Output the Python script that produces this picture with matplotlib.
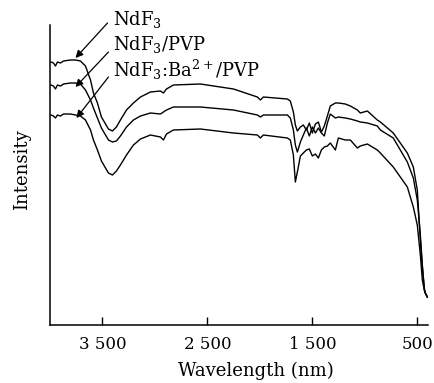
import matplotlib
matplotlib.use("Agg")
import matplotlib.pyplot as plt

plt.rcParams['font.family'] = ['DejaVu Serif']
plt.rcParams['mathtext.fontset'] = 'dejavuserif'

# wavelength (nm)
wavelength = [3990, 3967, 3948, 3929, 3900, 3871, 3805, 3757, 3710, 3662,
              3614, 3586, 3548, 3510, 3471, 3443, 3405, 3367, 3329, 3271,
              3205, 3138, 3043, 2948, 2919, 2890, 2824,
              2567, 2252, 2024, 1995, 1967, 1738, 1710, 1681, 1662, 1643,
              1614, 1586, 1557, 1529, 1500, 1471, 1443, 1414, 1386, 1357,
              1329, 1281, 1252, 1186, 1138, 1071, 1043, 976, 881, 852,
              729, 595, 538, 500, 471, 452, 433, 424, 405]

# intensity, arbitrary units
ndf3 = [263, 262, 259, 263, 262, 264, 265, 265, 264, 259,
        245, 232, 222, 208, 201, 196, 194, 198, 205, 215,
        222, 228, 233, 234, 232, 236, 240,
        241, 236, 228, 225, 228, 226, 224, 213, 200, 194,
        198, 200, 195, 202, 192, 201, 203, 193, 199, 209,
        219, 222, 222, 221, 219, 215, 212, 214, 205, 203,
        192, 172, 158, 135, 85, 58, 37, 32, 28]

ndf3_pvp = [240, 239, 236, 240, 239, 241, 242, 242, 241, 235,
            225, 217, 207, 197, 190, 185, 183, 184, 189, 198,
            205, 209, 212, 211, 213, 215, 218,
            218, 215, 210, 208, 210, 210, 207, 195, 180, 173,
            183, 190, 197, 189, 198, 192, 197, 192, 189, 202,
            211, 207, 208, 207, 206, 204, 203, 202, 199, 195,
            187, 163, 147, 125, 90, 60, 35, 32, 28]

ndf3_ba_pvp = [210, 209, 207, 210, 209, 211, 211, 210, 209, 205,
               195, 185, 175, 164, 157, 152, 150, 154, 160, 170,
               180, 186, 190, 188, 185, 191, 195,
               196, 192, 190, 187, 190, 187, 185, 170, 143, 153,
               169, 172, 175, 176, 169, 171, 167, 175, 178, 179,
               182, 175, 187, 185, 185, 177, 179, 181, 175, 172,
               158, 138, 118, 100, 70, 45, 35, 32, 28]

labels = ["NdF$_3$", "NdF$_3$/PVP", "NdF$_3$:Ba$^{2+}$/PVP"]
label_pos = [(3395, 300), (3395, 275), (3395, 248)]
arrow_start = [(3452, 302), (3443, 273), (3443, 248)]
arrow_tip = [(3757, 267), (3757, 238), (3748, 207)]

xticks = [3500, 2500, 1500, 500]
xticklabels = ["3 500", "2 500", "1 500", "500"]

fig = plt.figure(figsize=(4.34, 3.83), dpi=100)
ax = fig.add_axes([50/434, 58/383, 377.8/434, 300/383])

for series in (ndf3, ndf3_pvp, ndf3_ba_pvp):
    ax.plot(wavelength, series, color="black", lw=1.0)

for text, pos, start, tip in zip(labels, label_pos, arrow_start, arrow_tip):
    ax.text(pos[0], pos[1], text, fontsize=13, ha="left", va="baseline")
    ax.annotate("", xy=tip, xytext=start,
                arrowprops=dict(arrowstyle="-|>", color="black", lw=0.9,
                                mutation_scale=11, shrinkA=0, shrinkB=0))

ax.set_xlim(4000, 400)
ax.set_ylim(0, 300)
ax.set_xticks(xticks)
ax.set_xticklabels(xticklabels)
ax.set_yticks([])
ax.tick_params(axis="x", direction="in", length=6, width=1.0, pad=8,
               labelsize=12)

ax.spines["top"].set_visible(False)
ax.spines["right"].set_visible(False)
ax.spines["left"].set_linewidth(1.1)
ax.spines["bottom"].set_linewidth(1.1)

ax.set_xlabel("Wavelength (nm)", fontsize=13)
ax.xaxis.set_label_coords(0.545, -0.123)
ax.set_ylabel("Intensity", fontsize=13)
ax.yaxis.set_label_coords(-0.074, 0.517)
ax.yaxis.label.set_va("center")

fig.savefig("out.png", dpi=100)
